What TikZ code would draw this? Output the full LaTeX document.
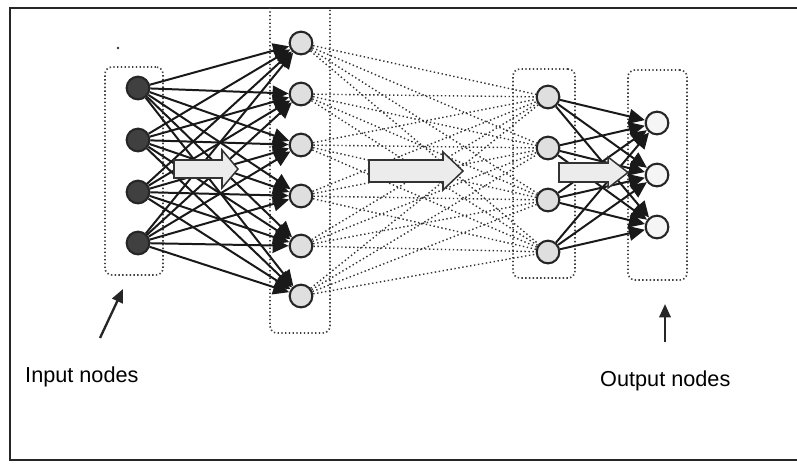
\documentclass[tikz,border=0pt]{standalone}
\usepackage{fontspec}
\setmainfont{Liberation Sans}
\usetikzlibrary{arrows.meta}

\begin{document}
\begin{tikzpicture}[
    x=0.03cm, y=-0.03cm,
    inode/.style={circle, draw=black!85, line width=1.8pt, fill=black!75,
                  minimum size=0.68cm, inner sep=0pt},
    hnode/.style={inode, fill=gray!25},
    onode/.style={inode, fill=gray!8},
    layer/.style={draw=black!75, dash pattern=on 1.2pt off 2pt, line width=1.4pt,
                  rounded corners=6pt, inner sep=0pt},
    link/.style={-{Triangle[length=4.8mm,width=4.4mm]}, line width=1.7pt, black!90},
    weak/.style={dash pattern=on 1.2pt off 2.2pt, line width=1.2pt, black!80},
    fat/.style={draw=black!80, fill=gray!15, line width=1.3pt, line join=miter},
    pointer/.style={-{Triangle[length=4mm,width=3.4mm]}, line width=2pt, black!85},
    txt/.style={font=\fontsize{18.5}{20}\selectfont, anchor=base west, inner sep=0pt},
  ]
  \useasboundingbox (0,0) rectangle (797,470);

  % frame, open on the right
  \draw[line width=1.6pt, black!85] (797,8) -- (10,8) -- (10,460) -- (797,460);

  % dotted layer boxes
  \node[layer, minimum width=1.74cm, minimum height=6.24cm] (inbox)  at (134,171)   {};
  \begin{scope}
    \clip (10,8) rectangle (797,460);
    \node[layer, minimum width=1.8cm, minimum height=10.29cm] (hidbox) at (300,161.5) {};
  \end{scope}
  \node[layer, minimum width=1.86cm, minimum height=6.27cm] (midbox) at (544,173.5) {};
  \node[layer, minimum width=1.77cm, minimum height=6.3cm]  (outbox) at (657.5,175) {};

  % neurons
  \foreach \y [count=\i] in {88,140,192,243}
    \node[inode] (i\i) at (138,\y) {};
  \foreach \y [count=\i] in {43,94,145,196,246,296}
    \node[hnode] (h\i) at (301,\y) {};
  \foreach \y [count=\i] in {97,148,200,252}
    \node[hnode] (g\i) at (548,\y) {};
  \foreach \y [count=\i] in {123,175,227}
    \node[onode] (o\i) at (657,\y) {};

  % weights
  \foreach \a in {1,...,4}
    \foreach \b in {1,...,6}
      \draw[link] (i\a) -- (h\b);
  \foreach \a in {1,...,6}
    \foreach \b in {1,...,4}
      \draw[weak] (h\a) -- (g\b);
  \foreach \a in {1,...,4}
    \foreach \b in {1,...,3}
      \draw[link] (g\a) -- (o\b);

  % flow arrows: tail / head start / tip / centre / half body / half head
  \foreach \xa/\xh/\xb/\yc/\bw/\hw in {174/222/238/169/9/19, 369/443/463/171/11/19, 559/608/628/172.5/9.5/15.5}
    \draw[fat] (\xa,\yc-\bw) -- (\xh,\yc-\bw) -- (\xh,\yc-\hw) -- (\xb,\yc)
               -- (\xh,\yc+\hw) -- (\xh,\yc+\bw) -- (\xa,\yc+\bw) -- cycle;

  % captions
  \coordinate (intail) at (100,338);
  \coordinate (inhead) at (123,289);
  \coordinate (outtail) at (665,342);
  \coordinate (outhead) at (665,304);
  \draw[pointer] (intail) -- (inhead);
  \draw[pointer] (outtail) -- (outhead);
  \node[txt] (inlabel)  at (25,382)  {Input nodes};
  \node[txt] (outlabel) at (600,386) {Output nodes};

  \fill[black!80] (118,48) circle (1.1pt);
\end{tikzpicture}
\end{document}
